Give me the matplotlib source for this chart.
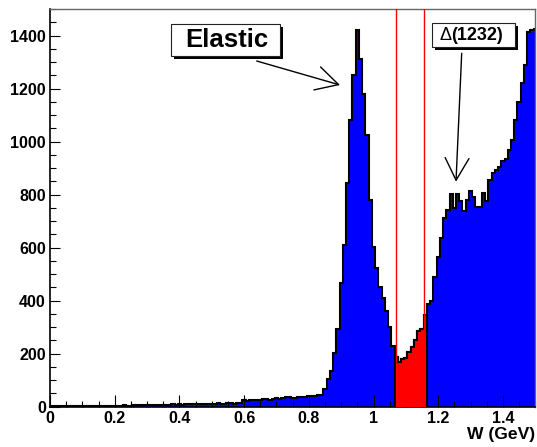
import numpy as np
import matplotlib
matplotlib.use("Agg")
import matplotlib.pyplot as plt
from matplotlib.patches import Rectangle, ArrowStyle

# ---------------- data ----------------
bin_width = 0.01
first_center = 0.0
counts = [
    0, 2, 3, 2, 4, 3, 2, 3, 4, 3,
    3, 2, 4, 3, 3, 4, 3, 2, 4, 3,
    4, 3, 4, 5, 3, 4, 5, 6, 5, 7,
    6, 5, 7, 6, 8, 7, 6, 8, 9, 7,
    10, 8, 9, 11, 12, 10, 9, 12, 11, 10,
    12, 11, 13, 12, 10, 14, 13, 12, 15, 14,
    24, 23, 25, 24, 26, 25, 28, 29, 27, 30,
    31, 30, 34, 35, 38, 33, 31, 36, 38, 37,
    40, 42, 41, 44, 46, 65, 103, 134, 204, 292,
    466, 610, 843, 1082, 1252, 1419, 1311, 1180, 1025, 778,
    604, 522, 453, 409, 360, 300, 230, 189, 170, 180,
    185, 208, 225, 250, 285, 292, 345, 387, 400, 490,
    566, 635, 711, 742, 801, 749, 801, 774, 740, 780,
    815, 792, 755, 755, 807, 774, 855, 880, 891, 905,
    925, 935, 969, 1006, 1080, 1150, 1220, 1290, 1415, 1420, 1425,
]
red_range = (1.07, 1.16)       # bins (by centre) filled red
cut_lines = [1.07, 1.156]      # red vertical cut lines
x_ticks = [0, 0.2, 0.4, 0.6, 0.8, 1.0, 1.2, 1.4]
x_tick_labels = ["0", "0.2", "0.4", "0.6", "0.8", "1", "1.2", "1.4"]
y_ticks = [0, 200, 400, 600, 800, 1000, 1200, 1400]
x_label = "W (GeV)"
label_elastic = "Elastic"
label_delta = "Δ(1232)"

# ---------------- figure ----------------
W, H = 537, 447
fig = plt.figure(figsize=(W / 100, H / 100), dpi=100)
plt.rcParams['font.family'] = ['Liberation Sans', 'DejaVu Sans']

ax = fig.add_axes([50 / W, (H - 406.7) / H, (535.25 - 50) / W, (406.7 - 9) / H])

counts = np.asarray(counts, dtype=float)
centers = first_center + bin_width * np.arange(len(counts))
edges = np.append(centers - bin_width / 2, centers[-1] + bin_width / 2)

ax.stairs(counts, edges, fill=True, color="#0000ff", zorder=1)
ax.stairs(counts, edges, fill=False, color="black", lw=1.5, zorder=2)

sel = (centers > red_range[0] - 1e-9) & (centers < red_range[1] + 1e-9)
idx = np.where(sel)[0]
red_edges = np.append(edges[idx], edges[idx[-1] + 1])
ax.stairs(counts[idx], red_edges, fill=True, color="#ff0000", zorder=3)
ax.stairs(counts[idx], red_edges, fill=False, color="black", lw=1.5, zorder=4)

for c in cut_lines:
    ax.axvline(c, color="#ff0000", lw=1.0, zorder=5)

ax.set_xlim(0, 1.5)
ax.set_ylim(0, 1500)

ax.set_xticks(x_ticks)
ax.set_xticklabels(x_tick_labels)
ax.set_yticks(y_ticks)
ax.set_xticks(np.arange(0, 1.5001, 0.05), minor=True)
ax.set_yticks(np.arange(0, 1500.1, 50), minor=True)

for lab in ax.get_xticklabels() + ax.get_yticklabels():
    lab.set_fontweight("bold")
    lab.set_fontsize(11.5)

ax.tick_params(axis="x", which="major", direction="in", length=9, width=0.8, pad=3)
ax.tick_params(axis="x", which="minor", direction="in", length=4.3, width=0.8)
ax.tick_params(axis="y", which="major", direction="in", length=7, width=0.8, pad=3)
ax.tick_params(axis="y", which="minor", direction="in", length=4.3, width=0.8)
ax.tick_params(top=False, right=False, which="both")

for s in ["left", "bottom"]:
    ax.spines[s].set_linewidth(1.2)
    ax.spines[s].set_color("black")
for s in ["top", "right"]:
    ax.spines[s].set_linewidth(1.0)
    ax.spines[s].set_color("#666666")

fig.text(535 / W, 1 - 434 / H, x_label, ha="right", va="center",
         fontsize=12.6, fontweight="bold")


def fp(x, y):
    return (x / W, 1 - y / H)


def label_box(x0, y0, x1, y1, shadow=3):
    sxy = fp(x0 + shadow, y1 + shadow)
    fig.add_artist(Rectangle(sxy, (x1 - x0) / W, (y1 - y0) / H,
                             transform=fig.transFigure, facecolor="black",
                             edgecolor="black", lw=0, zorder=10))
    bxy = fp(x0, y1)
    fig.add_artist(Rectangle(bxy, (x1 - x0) / W, (y1 - y0) / H,
                             transform=fig.transFigure, facecolor="white",
                             edgecolor="#222222", lw=0.8, zorder=11))


label_box(171, 24.3, 280, 55.7)
cx, cy = fp(226.5, 40)
fig.text(cx, cy, label_elastic, ha="center", va="center", fontsize=18.5,
         fontweight="bold", zorder=12)

label_box(432.3, 23.3, 515, 46.7)
sx, sy = fp(451.5, 35.5)
fig.text(sx, sy, label_delta[0], ha="right", va="center", fontsize=13,
         fontweight="normal", zorder=12)
fig.text(sx, sy, label_delta[1:], ha="left", va="center", fontsize=13,
         fontweight="bold", zorder=12)

astyle = ArrowStyle("->", head_length=16, head_width=8.6)
for tail, tip in [((256.7, 61), (340, 85)), ((461.7, 53.3), (456, 181.7))]:
    ax.annotate("", xy=(tip[0], H - tip[1]), xycoords="figure pixels",
                xytext=(tail[0], H - tail[1]), textcoords="figure pixels",
                arrowprops=dict(arrowstyle=astyle, lw=1.0, color="black",
                                shrinkA=0, shrinkB=0, mutation_scale=1),
                zorder=13, annotation_clip=False)

fig.savefig("out.png", dpi=100)
